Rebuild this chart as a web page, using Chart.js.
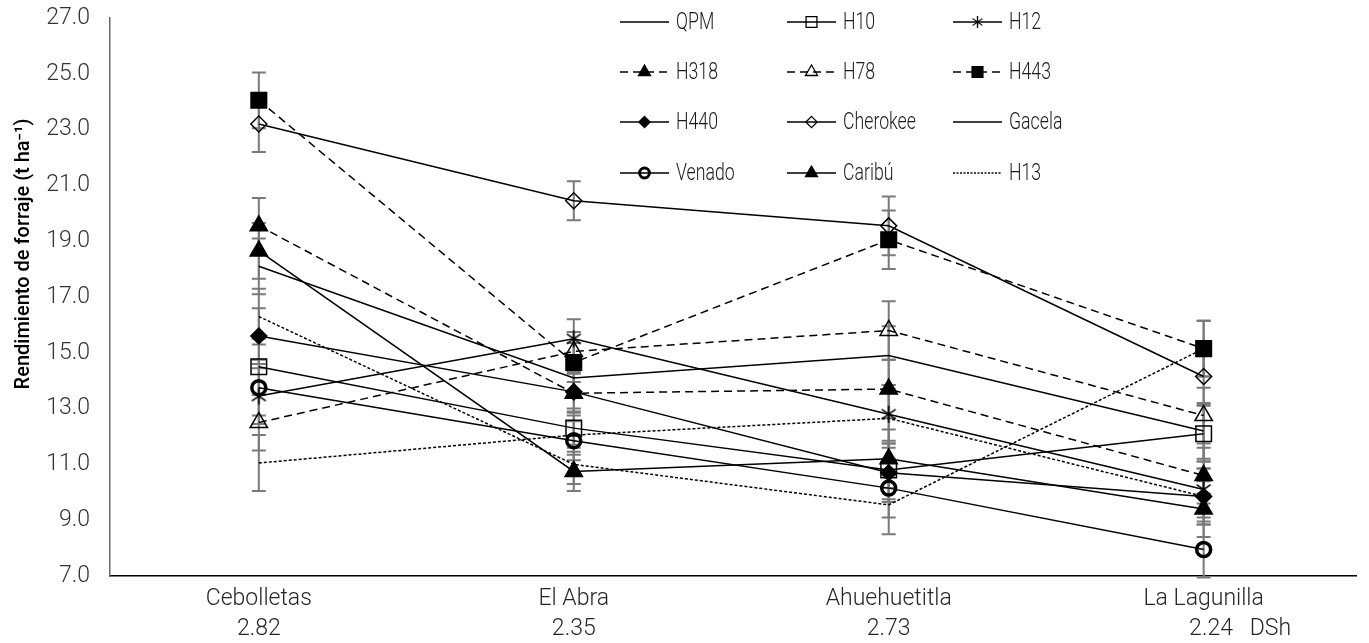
<!DOCTYPE html>
<html>
<head>
<meta charset="utf-8">
<script src="https://cdn.jsdelivr.net/npm/chart.js@4.4.0/dist/chart.umd.min.js"></script>
<style>
  html, body { margin: 0; padding: 0; background: #fff; }
  canvas { display: block; }
</style>
</head>
<body>
<canvas id="chart" width="1369" height="643"></canvas>
<script>
// categories and the DSh value printed under each one
const sites = ['Cebolletas', 'El Abra', 'Ahuehuetitla', 'La Lagunilla'];
const dsh = ['2.82', '2.35', '2.73', '2.24'];
const yTicks = [7, 9, 11, 13, 15, 17, 19, 21, 23, 25, 27];

// forage yield per hybrid / variety (t ha-1)
const qpm      = [18.1, 14.1, 14.9, 12.2];
const h10      = [14.5, 12.3, 10.8, 12.1];
const h12      = [13.45, 15.5, 12.8, 10.1];
const h318     = [19.55, 13.55, 13.7, 10.6];
const h78      = [12.5, 15.05, 15.8, 12.75];
const h443     = [24.05, 14.65, 19.05, 15.15];
const h440     = [15.6, 13.6, 10.7, 9.85];
const cherokee = [23.2, 20.45, 19.55, 14.15];
const gacela   = [16.3, 11.0, 9.55, 15.15];
const venado   = [13.75, 11.85, 10.15, 7.95];
const caribu   = [18.65, 10.75, 11.2, 9.4];
const h13      = [11.05, 12.05, 12.65, 9.85];

// half length of the error bars at each site
const errHalf = [1.0, 0.7, 1.05, 1.0];

const FONT = 'Roboto, "Noto Sans", sans-serif';

// asterisk marker (vertical stroke + X)
function makeAsterisk(size) {
    const c = document.createElement('canvas');
    c.width = size; c.height = size;
    const g = c.getContext('2d');
    const m = size / 2, r = size / 2 - 1;
    g.strokeStyle = '#000';
    g.lineWidth = 1.6;
    g.beginPath();
    [90, 35, 145].forEach(deg => {
        const a = deg * Math.PI / 180;
        g.moveTo(m - Math.cos(a) * r, m - Math.sin(a) * r);
        g.lineTo(m + Math.cos(a) * r, m + Math.sin(a) * r);
    });
    g.stroke();
    return c;
}
const asterisk = makeAsterisk(19);

function series(label, values, opts) {
    return Object.assign({
        label: label,
        data: values.map((v, i) => ({ x: i, y: v })),
        borderColor: '#000',
        borderWidth: 1.5,
        backgroundColor: '#000',
        pointStyle: 'circle',
        pointRadius: 0,
        pointHoverRadius: 0,
        pointBorderColor: '#000',
        pointBackgroundColor: '#000',
        pointBorderWidth: 1.5,
        tension: 0,
        fill: false
    }, opts);
}

const DASH = [8, 5];
const DOT = [3, 2];
const OPEN = 'rgba(0,0,0,0)';

const datasets = [
    series('QPM', qpm, {}),
    series('H10', h10, { pointStyle: 'rect', pointRadius: 11, pointBackgroundColor: OPEN }),
    series('H12', h12, { pointStyle: asterisk, pointRadius: 9 }),
    series('H318', h318, { borderDash: DASH, pointStyle: 'triangle', pointRadius: 10 }),
    series('H78', h78, { borderDash: DASH, pointStyle: 'triangle', pointRadius: 10, pointBackgroundColor: OPEN }),
    series('H443', h443, { borderDash: DASH, pointStyle: 'rect', pointRadius: 11 }),
    series('H440', h440, { pointStyle: 'rectRot', pointRadius: 8 }),
    series('Cherokee', cherokee, { pointStyle: 'rectRot', pointRadius: 8, pointBackgroundColor: OPEN }),
    series('Gacela', gacela, { borderDash: DOT, legendDash: [] }),
    series('Venado', venado, { pointStyle: 'circle', pointRadius: 7, pointBorderWidth: 3.5, pointBackgroundColor: OPEN }),
    series('Caribú', caribu, { pointStyle: 'triangle', pointRadius: 10 }),
    series('H13', h13, { borderDash: DOT, legendDash: [2, 1.5] })
];

function drawMarker(ctx, ds, x, y, k) {
    const st = ds.pointStyle;
    const r = ds.pointRadius * k;
    if (!r) return;
    ctx.save();
    ctx.setLineDash([]);
    ctx.strokeStyle = '#000';
    ctx.fillStyle = ds.pointBackgroundColor;
    ctx.lineWidth = ds.pointBorderWidth * (k < 1 ? 0.85 : 1);
    if (st instanceof HTMLCanvasElement) {
        const w = st.width * k, h = st.height * k;
        ctx.drawImage(st, x - w / 2, y - h / 2, w, h);
        ctx.restore();
        return;
    }
    ctx.beginPath();
    if (st === 'rect') {
        const s = r * Math.SQRT1_2;
        ctx.rect(x - s, y - s, 2 * s, 2 * s);
    } else if (st === 'rectRot') {
        ctx.moveTo(x, y - r); ctx.lineTo(x + r, y); ctx.lineTo(x, y + r); ctx.lineTo(x - r, y);
        ctx.closePath();
    } else if (st === 'triangle') {
        ctx.moveTo(x, y - r);
        ctx.lineTo(x + Math.sin(2 * Math.PI / 3) * r, y - Math.cos(2 * Math.PI / 3) * r);
        ctx.lineTo(x + Math.sin(4 * Math.PI / 3) * r, y - Math.cos(4 * Math.PI / 3) * r);
        ctx.closePath();
    } else {
        ctx.arc(x, y, r, 0, Math.PI * 2);
    }
    ctx.fill();
    ctx.stroke();
    ctx.restore();
}

// gray error bars under the lines
const errorBars = {
    id: 'errorBars',
    beforeDatasetsDraw(chart) {
        const ctx = chart.ctx;
        const xs = chart.scales.x, ys = chart.scales.y;
        ctx.save();
        ctx.strokeStyle = '#7a7a7a';
        ctx.lineWidth = 2;
        chart.data.datasets.forEach(ds => {
            ds.data.forEach(p => {
                const x = xs.getPixelForValue(p.x);
                const top = ys.getPixelForValue(p.y + errHalf[p.x]);
                const bot = ys.getPixelForValue(p.y - errHalf[p.x]);
                ctx.beginPath();
                ctx.moveTo(x, top); ctx.lineTo(x, bot);
                ctx.moveTo(x - 7, top); ctx.lineTo(x + 7, top);
                ctx.moveTo(x - 7, bot); ctx.lineTo(x + 7, bot);
                ctx.stroke();
            });
        });
        ctx.restore();
    }
};

// 3 x 4 legend grid in the upper right corner (narrow lettering)
const gridLegend = {
    id: 'gridLegend',
    afterDraw(chart) {
        const ctx = chart.ctx;
        const cols = [620, 787, 953];
        const rows = [22, 72, 122, 173];
        const squeeze = 0.77;
        ctx.save();
        chart.data.datasets.forEach((ds, i) => {
            const x = cols[i % 3], y = rows[Math.floor(i / 3)];
            ctx.save();
            ctx.strokeStyle = '#000';
            ctx.lineWidth = 1.5;
            ctx.setLineDash(ds.legendDash || ds.borderDash || []);
            ctx.beginPath();
            ctx.moveTo(x, y); ctx.lineTo(x + 49, y);
            ctx.stroke();
            ctx.restore();
            drawMarker(ctx, ds, x + 24.5, y, 0.7);
            ctx.save();
            ctx.translate(x + 56, y + 1);
            ctx.scale(squeeze, 1);
            ctx.font = '300 23px ' + FONT;
            ctx.textBaseline = 'middle';
            ctx.fillStyle = '#1a1a1a';
            ctx.fillText(ds.label, 0, 0);
            ctx.restore();
        });
        ctx.restore();
    }
};

// rotated y axis title
const yTitle = {
    id: 'yTitle',
    afterDraw(chart) {
        const ctx = chart.ctx;
        ctx.save();
        ctx.translate(24, 254);
        ctx.rotate(-Math.PI / 2);
        ctx.font = '500 20px ' + FONT;
        ctx.fillStyle = '#000';
        ctx.textAlign = 'center';
        ctx.textBaseline = 'middle';
        ctx.fillText('Rendimiento de forraje (t ha\u207B\u00B9)', 0, 0);
        ctx.restore();
    }
};

const lastPad = '             ';

new Chart(document.getElementById('chart'), {
    type: 'line',
    data: { datasets: datasets },
    plugins: [errorBars, gridLegend, yTitle],
    options: {
        responsive: false,
        animation: false,
        devicePixelRatio: 1,
        layout: { padding: { top: 18, right: 0, left: 0, bottom: 0 } },
        plugins: { legend: { display: false }, tooltip: { enabled: false } },
        scales: {
            x: {
                type: 'linear',
                min: -0.4725,
                max: 3.4853,
                afterBuildTicks: s => { s.ticks = sites.map((_, i) => ({ value: i })); },
                afterFit: s => { s.height = 67; s.paddingLeft = 0; s.paddingRight = 0; },
                grid: { display: false, drawTicks: false },
                border: { display: true, color: '#000', width: 1.5 },
                ticks: {
                    autoSkip: false,
                    maxRotation: 0,
                    padding: 8,
                    color: '#262626',
                    font: { family: FONT, size: 23, weight: 300, lineHeight: 1.3 },
                    callback: v => {
                        const i = Math.round(v);
                        if (i === sites.length - 1) return [sites[i], lastPad + dsh[i] + '   DSh'];
                        return [sites[i], dsh[i]];
                    }
                }
            },
            y: {
                min: 7,
                max: 27,
                afterBuildTicks: s => { s.ticks = yTicks.map(v => ({ value: v })); },
                afterFit: s => { s.width = 110; s.paddingTop = 0; s.paddingBottom = 0; },
                grid: { display: false, drawTicks: false },
                border: { display: true, color: '#6b6b6b', width: 1.5 },
                ticks: {
                    padding: 20,
                    color: '#333',
                    font: { family: FONT, size: 23, weight: 300 },
                    callback: v => v.toFixed(1)
                }
            }
        }
    }
});
</script>
</body>
</html>
